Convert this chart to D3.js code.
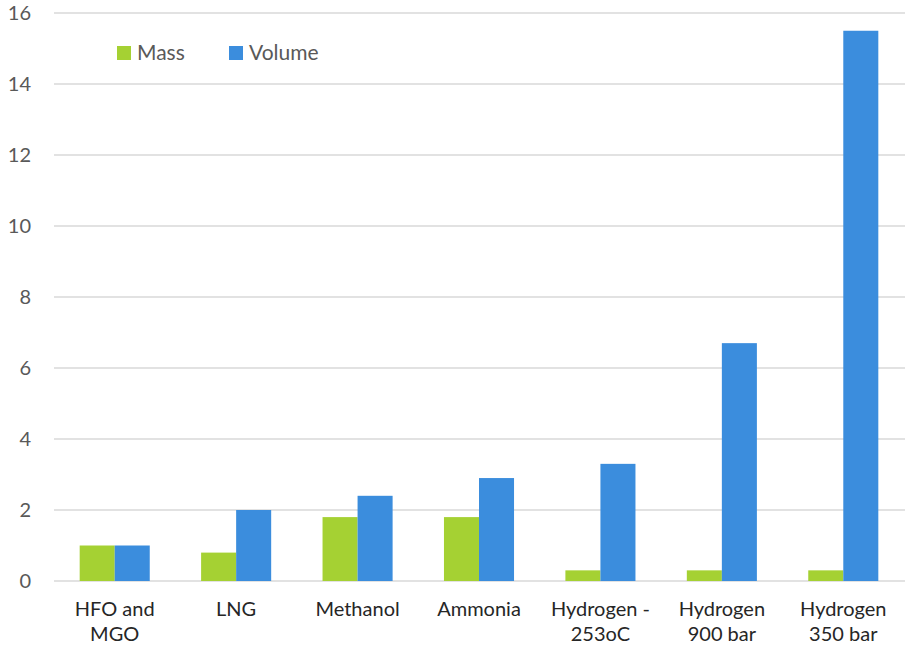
<!DOCTYPE html>
<html>
<head>
<meta charset="utf-8">
<script src="https://cdn.jsdelivr.net/npm/d3@7"></script>
<style>
  html, body { margin: 0; padding: 0; background: #ffffff; }
  svg { display: block; font-family: "Source Sans Pro", Lato, "Noto Sans", sans-serif; }
</style>
</head>
<body>
<svg id="chart" width="905" height="648"></svg>
<script>
// Fuel storage requirement relative to HFO/MGO, by mass and by volume
const categories = [
  ["HFO and", "MGO"],
  ["LNG"],
  ["Methanol"],
  ["Ammonia"],
  ["Hydrogen -", "253oC"],
  ["Hydrogen", "900 bar"],
  ["Hydrogen", "350 bar"]
];
const massValues   = [1.0, 0.8, 1.8, 1.8, 0.3, 0.3, 0.3];
const volumeValues = [1.0, 2.0, 2.4, 2.9, 3.3, 6.7, 15.5];
const seriesNames  = ["Mass", "Volume"];
const yTicks       = [0, 2, 4, 6, 8, 10, 12, 14, 16];

const colors = { Mass: "#a5d133", Volume: "#3b8ddd" };
const FONT = '"Source Sans Pro", Lato, "Noto Sans", sans-serif';

const svg = d3.select("#chart");
const margin = { left: 54, right: 1, top: 13, bottom: 67 };
const W = 905, H = 648;

const keys = categories.map((c, i) => i);
const x = d3.scaleBand()
  .domain(keys)
  .range([margin.left, W - margin.right])
  .paddingInner(0.423)
  .paddingOuter(0.2115);

const xSub = d3.scaleBand()
  .domain(seriesNames)
  .range([0, x.bandwidth()]);

const y = d3.scaleLinear()
  .domain([0, 16])
  .range([H - margin.bottom, margin.top]);

// Horizontal gridlines
svg.append("g")
  .selectAll("line")
  .data(yTicks)
  .join("line")
  .attr("x1", margin.left)
  .attr("x2", W)
  .attr("y1", d => y(d))
  .attr("y2", d => y(d))
  .attr("stroke", "#d9d9d9")
  .attr("stroke-width", 1.5);

// Y axis tick labels
const yAxis = d3.axisLeft(y).tickValues(yTicks).tickSize(0).tickPadding(0);
const gy = svg.append("g")
  .attr("transform", `translate(31,0)`)
  .call(yAxis);
gy.select(".domain").remove();
gy.attr("font-family", FONT);
gy.selectAll("text")
  .attr("fill", "#595959")
  .attr("font-size", 20);

// Bars
const data = keys.map(i => ({ i, Mass: massValues[i], Volume: volumeValues[i] }));
const groups = svg.append("g")
  .selectAll("g")
  .data(data)
  .join("g")
  .attr("transform", d => `translate(${x(d.i)},0)`);

groups.selectAll("rect")
  .data(d => seriesNames.map(k => ({ k, v: d[k] })))
  .join("rect")
  .attr("x", d => xSub(d.k))
  .attr("width", xSub.bandwidth())
  .attr("y", d => y(d.v))
  .attr("height", d => y(0) - y(d.v))
  .attr("fill", d => colors[d.k]);

// Category labels
const xAxis = d3.axisBottom(x).tickSize(0).tickFormat(() => "");
const gx = svg.append("g")
  .attr("transform", `translate(0,${y(0)})`)
  .call(xAxis);
gx.select(".domain").remove();
gx.attr("font-family", FONT);
gx.selectAll(".tick").each(function(d) {
  const t = d3.select(this).append("text")
    .attr("text-anchor", "middle")
    .attr("fill", "#262626")
    .attr("font-size", 20);
  categories[d].forEach((line, j) => {
    t.append("tspan")
      .attr("x", 0)
      .attr("y", 35 + j * 25)
      .text(line);
  });
});

// Legend
const legend = svg.append("g").attr("font-family", FONT);
const legendX = { Mass: 117, Volume: 229 };
seriesNames.forEach(k => {
  legend.append("rect")
    .attr("x", legendX[k])
    .attr("y", 46)
    .attr("width", 14)
    .attr("height", 14)
    .attr("fill", colors[k]);
  legend.append("text")
    .attr("x", legendX[k] + 20)
    .attr("y", 60)
    .attr("fill", "#595959")
    .attr("font-size", 21)
    .text(k);
});
</script>
</body>
</html>
